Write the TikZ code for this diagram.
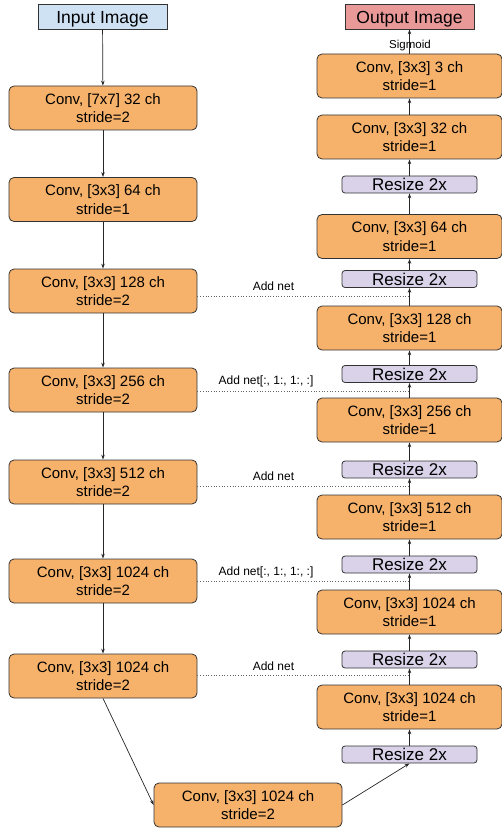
\documentclass[tikz,border=0pt]{standalone}
\usepackage{fontspec}
\setmainfont{Liberation Sans}
\usetikzlibrary{arrows.meta}
\definecolor{convfill}{HTML}{F6B26B}
\definecolor{rszfill}{HTML}{D9D2E9}
\definecolor{infill}{HTML}{CFE2F3}
\definecolor{outfill}{HTML}{EA9999}
\definecolor{edge}{HTML}{333333}
\tikzset{
  convbox/.style={draw=edge, line width=0.8pt, fill=convfill, rounded corners=5pt,
    minimum width=188pt, minimum height=44pt, inner sep=0pt, align=center,
    font=\fontsize{15}{18.5}\selectfont},
  rszbox/.style={draw=edge, line width=0.8pt, fill=rszfill, rounded corners=3pt,
    minimum width=135pt, minimum height=17pt, inner sep=0pt,
    font=\fontsize{17}{17}\selectfont},
  iobox/.style={draw=edge, line width=0.8pt, minimum width=129pt, minimum height=25pt,
    inner sep=0pt, text height=16pt, text depth=1pt, font=\fontsize{17.5}{17.5}\selectfont},
  flow/.style={-{Stealth[length=5pt,width=3.5pt]}, line width=0.7pt, draw=black!85},
  addline/.style={dotted, line width=0.7pt, draw=black!60},
  addlabel/.style={font=\fontsize{12}{12}\selectfont, inner sep=0pt}
}
\begin{document}
\begin{tikzpicture}[x=1pt, y=-1pt]
\useasboundingbox (0,0) rectangle (502,829);

% encoder column
\node[iobox, fill=infill] (in) at (102.5,16.5) {Input Image};
\node[convbox] (e1) at (103,108) {Conv, [7x7] 32 ch\\stride=2};
\node[convbox] (e2) at (103,199.5) {Conv, [3x3] 64 ch\\stride=1};
\node[convbox] (e3) at (103,291) {Conv, [3x3] 128 ch\\stride=2};
\node[convbox] (e4) at (103,390) {Conv, [3x3] 256 ch\\stride=2};
\node[convbox] (e5) at (103,482) {Conv, [3x3] 512 ch\\stride=2};
\node[convbox] (e6) at (103,581) {Conv, [3x3] 1024 ch\\stride=2};
\node[convbox] (e7) at (103,676) {Conv, [3x3] 1024 ch\\stride=2};
\node[convbox] (bot) at (248,805) {Conv, [3x3] 1024 ch\\stride=2};

% decoder column
\node[iobox, fill=outfill] (out) at (409.5,16.5) {Output Image};
\node[convbox, minimum width=185pt] (d1) at (409.5,76) {Conv, [3x3] 3 ch\\stride=1};
\node[convbox, minimum width=185pt] (d2) at (409.5,137) {Conv, [3x3] 32 ch\\stride=1};
\node[rszbox] (r1) at (409.5,184.5) {Resize 2x};
\node[convbox, minimum width=185pt] (d3) at (409.5,236.5) {Conv, [3x3] 64 ch\\stride=1};
\node[rszbox] (r2) at (409.5,279) {Resize 2x};
\node[convbox, minimum width=185pt] (d4) at (409.5,328) {Conv, [3x3] 128 ch\\stride=1};
\node[rszbox] (r3) at (409.5,374) {Resize 2x};
\node[convbox, minimum width=185pt] (d5) at (409.5,420) {Conv, [3x3] 256 ch\\stride=1};
\node[rszbox] (r4) at (409.5,469.5) {Resize 2x};
\node[convbox, minimum width=185pt] (d6) at (409.5,517) {Conv, [3x3] 512 ch\\stride=1};
\node[rszbox] (r5) at (409.5,564.5) {Resize 2x};
\node[convbox, minimum width=185pt] (d7) at (409.5,612) {Conv, [3x3] 1024 ch\\stride=1};
\node[rszbox] (r6) at (409.5,659.5) {Resize 2x};
\node[convbox, minimum width=185pt] (d8) at (409.5,707) {Conv, [3x3] 1024 ch\\stride=1};
\node[rszbox] (r7) at (409.5,754.5) {Resize 2x};

% encoder flow
\draw[flow] (in) -- (e1);
\draw[flow] (e1) -- (e2);
\draw[flow] (e2) -- (e3);
\draw[flow] (e3) -- (e4);
\draw[flow] (e4) -- (e5);
\draw[flow] (e5) -- (e6);
\draw[flow] (e6) -- (e7);
\draw[flow] (e7.south) -- (bot.west);
\draw[flow] (bot.east) -- (r7.south);

% decoder flow
\draw[flow] (r7) -- (d8);
\draw[flow] (d8) -- (r6);
\draw[flow] (r6) -- (d7);
\draw[flow] (d7) -- (r5);
\draw[flow] (r5) -- (d6);
\draw[flow] (d6) -- (r4);
\draw[flow] (r4) -- (d5);
\draw[flow] (d5) -- (r3);
\draw[flow] (r3) -- (d4);
\draw[flow] (d4) -- (r2);
\draw[flow] (r2) -- (d3);
\draw[flow] (d3) -- (r1);
\draw[flow] (r1) -- (d2);
\draw[flow] (d2) -- (d1);
\draw[flow] (d1) -- (out);
\node[font=\fontsize{11.5}{11.5}\selectfont, inner sep=0pt] (sig) at (410,45.5) {Sigmoid};

% skip connections
\coordinate (j1) at (409.5,296);
\coordinate (j2) at (409.5,391);
\coordinate (j3) at (409.5,486);
\coordinate (j4) at (409.5,581);
\coordinate (j5) at (409.5,675);
\draw[addline] (e3.east |- j1) -- (j1);
\draw[addline] (e4.east |- j2) -- (j2);
\draw[addline] (e5.east |- j3) -- (j3);
\draw[addline] (e6.east |- j4) -- (j4);
\draw[addline] (e7.east |- j5) -- (j5);
\node[addlabel] (a1) at (273.5,286) {Add net};
\node[addlabel] (a2) at (266,381) {Add net[:, 1:, 1:, :]};
\node[addlabel] (a3) at (273.5,476) {Add net};
\node[addlabel] (a4) at (266,572) {Add net[:, 1:, 1:, :]};
\node[addlabel] (a5) at (273.5,666.5) {Add net};
\end{tikzpicture}
\end{document}
